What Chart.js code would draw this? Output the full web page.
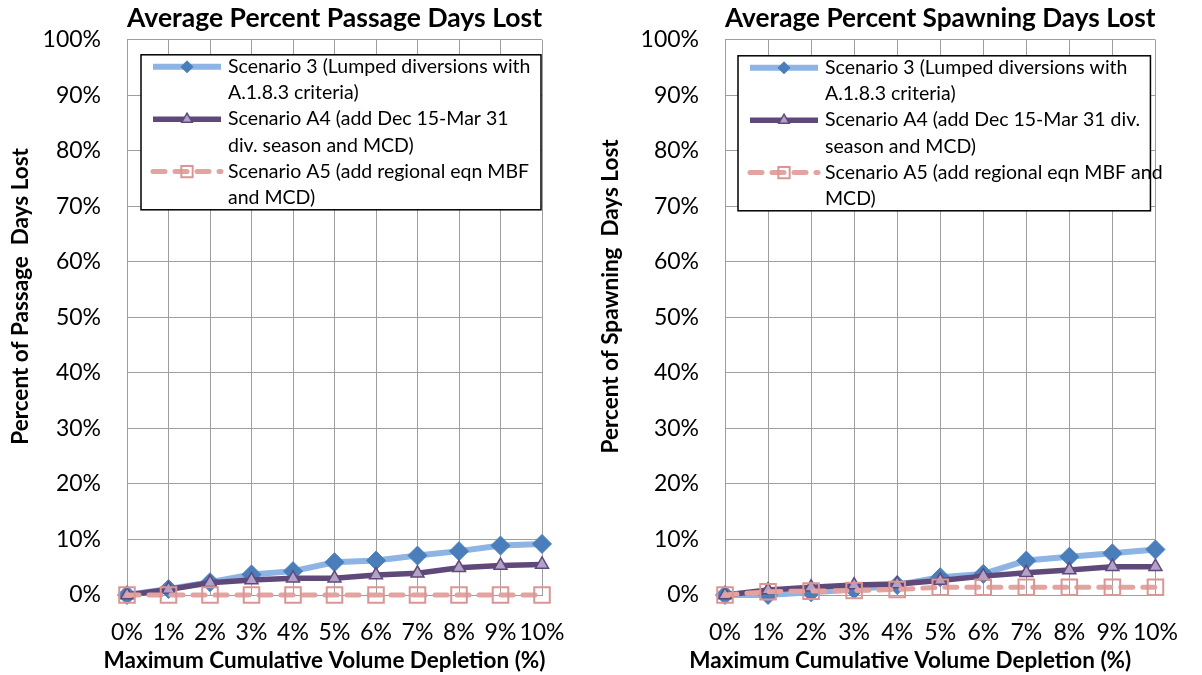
<!DOCTYPE html>
<html>
<head>
<meta charset="utf-8">
<title>Average Percent Days Lost</title>
<script src="https://cdn.jsdelivr.net/npm/chart.js@4.4.1/dist/chart.umd.min.js"></script>
<style>
  html, body { margin: 0; padding: 0; background: #ffffff; }
  #wrap { position: relative; width: 1202px; height: 675px; overflow: hidden; background: #ffffff; }
  .panel { position: absolute; top: 0; height: 675px; }
  #panelPassage { left: 0; width: 600px; }
  #panelSpawning { left: 590px; width: 612px; }
</style>
</head>
<body>
<div id="wrap">
  <div class="panel" id="panelPassage"><canvas id="chartPassage" width="600" height="675"></canvas></div>
  <div class="panel" id="panelSpawning"><canvas id="chartSpawning" width="612" height="675"></canvas></div>
</div>
<script>
// Maximum cumulative volume depletion steps (x axis)
const depletionLabels = ['0%', '1%', '2%', '3%', '4%', '5%', '6%', '7%', '8%', '9%', '10%'];

// Y axis range (percent of days lost)
const yMin = 0;
const yMax = 100;
const yStep = 10;

// Average percent passage days lost
const passageScenario3  = [0, 1.1, 2.3, 3.7, 4.3, 5.9, 6.2, 7.1, 7.9, 8.9, 9.2];
const passageScenarioA4 = [0, 1.0, 2.2, 2.7, 3.0, 3.0, 3.6, 3.9, 4.9, 5.3, 5.5];
const passageScenarioA5 = [0, 0, 0, 0, 0, 0, 0, 0, 0, 0, 0];

// Average percent spawning days lost
const spawningScenario3  = [0, 0, 0.5, 1.0, 1.8, 3.2, 3.8, 6.2, 6.9, 7.5, 8.2];
const spawningScenarioA4 = [0, 0.9, 1.4, 1.8, 2.0, 2.6, 3.4, 4.0, 4.5, 5.1, 5.1];
const spawningScenarioA5 = [0, 0.6, 0.7, 0.8, 1.0, 1.4, 1.4, 1.4, 1.4, 1.4, 1.4];

// Legend text, wrapped as in each chart's legend box
const passageLegendLines = [
  ['Scenario 3 (Lumped diversions with', 'A.1.8.3 criteria)'],
  ['Scenario A4 (add Dec 15-Mar 31', 'div. season and MCD)'],
  ['Scenario A5 (add regional eqn MBF', 'and MCD)']
];
const spawningLegendLines = [
  ['Scenario 3 (Lumped diversions with', 'A.1.8.3 criteria)'],
  ['Scenario A4 (add Dec 15-Mar 31 div.', 'season and MCD)'],
  ['Scenario A5 (add regional eqn MBF and', 'MCD)']
];

const FONT = 'Lato, "Open Sans", "Liberation Sans", sans-serif';
const GRID = '#9e9e9e';

// Series styles shared by both charts
function makeDatasets(s3, a4, a5, legendLines) {
  return [
    {
      label: legendLines[0].join(' '),
      data: s3,
      borderColor: '#8eb4e3',
      borderWidth: 6,
      pointStyle: 'rectRot',
      pointRadius: 9.5,
      pointHoverRadius: 9.5,
      pointBackgroundColor: '#4a7ebb',
      pointBorderColor: '#4a7ebb',
      pointBorderWidth: 1,
      legendRadius: 6,
      tension: 0,
      clip: false,
      order: 3
    },
    {
      label: legendLines[1].join(' '),
      data: a4,
      borderColor: '#5f497a',
      borderWidth: 5.5,
      pointStyle: 'triangle',
      pointRadius: 7.5,
      pointHoverRadius: 7.5,
      pointBackgroundColor: '#b3a2c7',
      pointBorderColor: '#5f497a',
      pointBorderWidth: 1.5,
      legendRadius: 6,
      tension: 0,
      clip: false,
      order: 2
    },
    {
      label: legendLines[2].join(' '),
      data: a5,
      borderColor: '#e3a3a1',
      borderWidth: 5,
      borderDash: [12, 10],
      borderCapStyle: 'round',
      pointStyle: 'rect',
      pointRadius: 11,
      pointHoverRadius: 11,
      pointBackgroundColor: 'rgba(255,255,255,0)',
      pointBorderColor: '#d99694',
      pointBorderWidth: 2,
      legendRadius: 8,
      tension: 0,
      clip: false,
      order: 1
    }
  ];
}

// Boxed, wrapped legend drawn inside the plot area
const boxedLegend = {
  id: 'boxedLegend',
  afterDraw(chart, args, opts) {
    const { ctx, chartArea: a } = chart;
    const left = a.left + opts.inset.left;
    const right = a.right - opts.inset.right;
    const top = a.top + opts.inset.top;
    const rows = opts.lines.reduce((n, l) => n + l.length, 0);
    const height = opts.firstRow * 2 + (rows - 1) * opts.rowHeight;
    ctx.save();
    ctx.fillStyle = '#ffffff';
    ctx.fillRect(left, top, right - left, height);
    ctx.strokeStyle = '#000000';
    ctx.lineWidth = 1.5;
    ctx.strokeRect(left, top, right - left, height);

    let y = top + opts.firstRow;
    chart.data.datasets.forEach((ds, i) => {
      ctx.save();
      ctx.strokeStyle = ds.borderColor;
      ctx.lineWidth = ds.borderWidth;
      ctx.lineCap = ds.borderCapStyle || 'butt';
      ctx.setLineDash(ds.borderDash || []);
      ctx.beginPath();
      ctx.moveTo(left + 12, y);
      ctx.lineTo(left + 80, y);
      ctx.stroke();
      ctx.setLineDash([]);
      ctx.fillStyle = ds.pointBackgroundColor;
      ctx.strokeStyle = ds.pointBorderColor;
      ctx.lineWidth = ds.pointBorderWidth;
      Chart.helpers.drawPoint(ctx, {
        pointStyle: ds.pointStyle,
        radius: ds.legendRadius,
        borderWidth: ds.pointBorderWidth,
        rotation: 0
      }, left + 46, y);
      ctx.restore();

      ctx.fillStyle = '#000000';
      ctx.font = opts.fontSize + 'px ' + FONT;
      ctx.textAlign = 'left';
      ctx.textBaseline = 'middle';
      opts.lines[i].forEach((line) => {
        ctx.fillText(line, left + 87, y);
        y += opts.rowHeight;
      });
    });
    ctx.restore();
  }
};

// Axis captions placed relative to the plot area
const axisCaptions = {
  id: 'axisCaptions',
  afterDraw(chart, args, opts) {
    const { ctx, chartArea: a } = chart;
    ctx.save();
    ctx.fillStyle = '#000000';
    ctx.font = 'bold ' + opts.fontSize + 'px ' + FONT;
    ctx.textAlign = 'center';
    ctx.textBaseline = 'middle';
    ctx.fillText(opts.x.text, (a.left + a.right) / 2 + opts.x.dx, opts.x.y);
    ctx.translate(opts.y.x, (a.top + a.bottom) / 2 + opts.y.dy);
    ctx.rotate(-Math.PI / 2);
    ctx.fillText(opts.y.text, 0, 0);
    ctx.restore();
  }
};

function buildChart(canvasId, cfg) {
  return new Chart(document.getElementById(canvasId), {
    type: 'line',
    data: {
      labels: depletionLabels,
      datasets: makeDatasets(cfg.s3, cfg.a4, cfg.a5, cfg.legendLines)
    },
    options: {
      responsive: false,
      animation: false,
      devicePixelRatio: 1,
      layout: { padding: { left: 0, right: cfg.padRight, top: 0, bottom: 0 } },
      plugins: {
        legend: { display: false },
        tooltip: { enabled: false },
        title: {
          display: true,
          text: cfg.title,
          fullSize: false,
          color: '#000000',
          font: { family: FONT, size: 27, weight: 'bold', lineHeight: 1.2 },
          padding: { top: 1, bottom: 5 }
        },
        boxedLegend: {
          lines: cfg.legendLines,
          inset: cfg.legendInset,
          firstRow: 12,
          rowHeight: 26.2,
          fontSize: 19.5
        },
        axisCaptions: {
          fontSize: 22.5,
          x: { text: 'Maximum Cumulative Volume Depletion (%)', dx: cfg.xTitleDx, y: 661 },
          y: { text: cfg.yTitle, x: 21, dy: -21 }
        }
      },
      scales: {
        x: {
          type: 'category',
          offset: false,
          afterFit(scale) { scale.height = 80; },
          grid: { color: GRID, lineWidth: 1, drawTicks: false },
          border: { color: GRID, width: 1 },
          ticks: {
            autoSkip: false,
            maxRotation: 0,
            minRotation: 0,
            padding: 24,
            color: '#000000',
            font: { family: FONT, size: 23 }
          }
        },
        y: {
          min: yMin,
          max: yMax,
          afterFit(scale) { scale.width = cfg.yWidth; },
          grid: { color: GRID, lineWidth: 1, drawTicks: false },
          border: { color: GRID, width: 1 },
          ticks: {
            stepSize: yStep,
            padding: 26,
            color: '#000000',
            font: { family: FONT, size: 23 },
            callback: (v) => v + '%'
          }
        }
      }
    },
    plugins: [boxedLegend, axisCaptions]
  });
}

buildChart('chartPassage', {
  title: 'Average Percent Passage Days Lost',
  yTitle: 'Percent of Passage  Days Lost',
  s3: passageScenario3,
  a4: passageScenarioA4,
  a5: passageScenarioA5,
  legendLines: passageLegendLines,
  legendInset: { left: 14, right: 1, top: 15 },
  yWidth: 127,
  padRight: 58,
  xTitleDx: -10
});

buildChart('chartSpawning', {
  title: 'Average Percent Spawning Days Lost',
  yTitle: 'Percent of Spawning  Days Lost',
  s3: spawningScenario3,
  a4: spawningScenarioA4,
  a5: spawningScenarioA5,
  legendLines: spawningLegendLines,
  legendInset: { left: 13, right: 5, top: 16 },
  yWidth: 135,
  padRight: 29,
  xTitleDx: -30
});
</script>
</body>
</html>
